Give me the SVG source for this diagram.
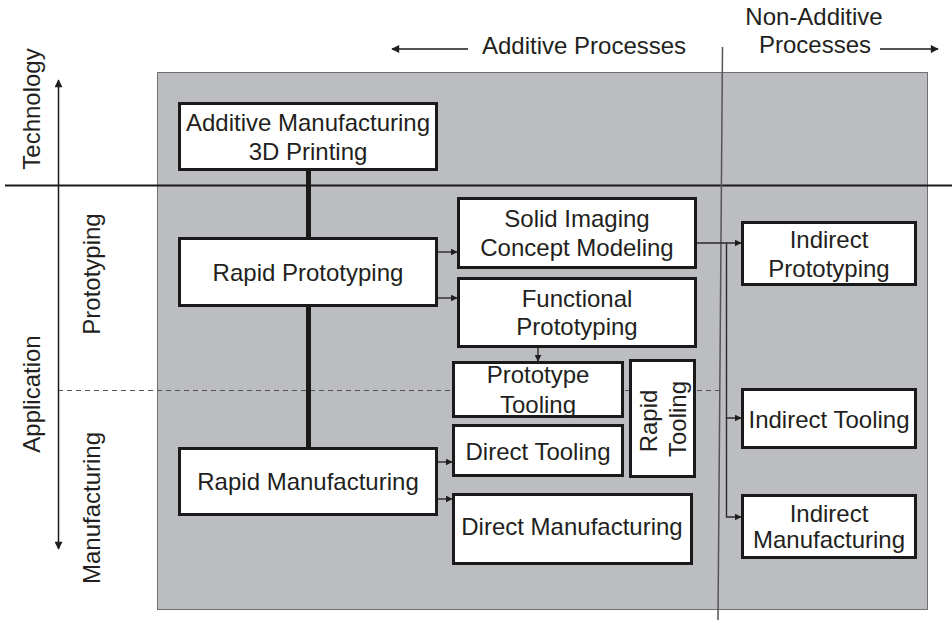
<svg xmlns="http://www.w3.org/2000/svg" width="952" height="627" viewBox="0 0 952 627">
  <defs>
    <marker id="head" viewBox="0 0 10 10" refX="9" refY="5" markerWidth="7" markerHeight="7" markerUnits="userSpaceOnUse" orient="auto">
      <path d="M0,0 L10,5 L0,10 z" fill="#1f1f1f"/>
    </marker>
    <marker id="axisHead" viewBox="0 0 10 10" refX="9" refY="5" markerWidth="9" markerHeight="8" markerUnits="userSpaceOnUse" orient="auto-start-reverse">
      <path d="M0,0 L10,5 L0,10 z" fill="#1f1f1f"/>
    </marker>
  </defs>
  <style>
    text { font-family: "Liberation Sans", Arial, Helvetica, sans-serif; font-size: 24px; fill: #231f20; }
    .c { text-anchor: middle; }
    .box { fill: #ffffff; stroke: #1a1a1a; stroke-width: 3; }
    .link { fill: none; stroke: #2a2a2a; stroke-width: 1.4; marker-end: url(#head); }
    .trunk { fill: none; stroke: #1a1a1a; stroke-width: 5; }
  </style>

  <rect width="952" height="627" fill="#ffffff"/>

  <!-- shaded process field -->
  <rect x="157.5" y="72.5" width="770" height="537" fill="#bcbdc0" stroke="#707070" stroke-width="1"/>

  <!-- frame lines -->
  <g id="frame">
    <line x1="5" y1="185.5" x2="952" y2="185.5" stroke="#1a1a1a" stroke-width="2"/>
    <line x1="58" y1="390.5" x2="720" y2="390.5" stroke="#555555" stroke-width="1.2" stroke-dasharray="5 4"/>
    <line x1="722.5" y1="47" x2="718" y2="620" stroke="#555555" stroke-width="1.5"/>
    <line x1="58.5" y1="80" x2="58.5" y2="549" stroke="#1a1a1a" stroke-width="1.5" marker-start="url(#axisHead)" marker-end="url(#axisHead)"/>
    <line x1="468" y1="49" x2="392" y2="49" stroke="#1a1a1a" stroke-width="1.5" marker-end="url(#axisHead)"/>
    <line x1="880" y1="49" x2="938" y2="49" stroke="#1a1a1a" stroke-width="1.5" marker-end="url(#axisHead)"/>
  </g>

  <!-- axis and column labels -->
  <g id="labels">
    <text x="482" y="54">Additive Processes</text>
    <text class="c" x="814" y="25">Non-Additive</text>
    <text class="c" x="815" y="53">Processes</text>
    <text class="c" transform="translate(40,109) rotate(-90)">Technology</text>
    <text class="c" transform="translate(40,394) rotate(-90)">Application</text>
    <text class="c" transform="translate(100,274) rotate(-90)">Prototyping</text>
    <text class="c" transform="translate(100,508) rotate(-90)">Manufacturing</text>
  </g>

  <!-- connectors -->
  <g id="connectors">
    <line class="trunk" x1="308.5" y1="171" x2="308.5" y2="447"/>
    <line class="link" x1="438" y1="252" x2="457" y2="252"/>
    <line class="link" x1="438" y1="298" x2="457" y2="298"/>
    <line class="link" x1="538" y1="348" x2="538" y2="361"/>
    <line class="link" x1="438" y1="462" x2="452" y2="462"/>
    <line class="link" x1="438" y1="499" x2="452" y2="499"/>
    <line class="link" x1="697" y1="243" x2="741" y2="243"/>
    <polyline class="link" points="726.5,243 726.5,418 741,418"/>
    <polyline class="link" points="726.5,418 726.5,517 741,517"/>
  </g>

  <g id="additive-manufacturing">
    <rect class="box" x="179.5" y="103.5" width="257" height="66"/>
    <text class="c" x="308" y="131">Additive Manufacturing</text>
    <text class="c" x="308" y="160">3D Printing</text>
  </g>
  <g id="rapid-prototyping">
    <rect class="box" x="179.5" y="238.5" width="257" height="67"/>
    <text class="c" x="308" y="281">Rapid Prototyping</text>
  </g>
  <g id="rapid-manufacturing">
    <rect class="box" x="179.5" y="448.5" width="257" height="66"/>
    <text class="c" x="308" y="490">Rapid Manufacturing</text>
  </g>
  <g id="solid-imaging">
    <rect class="box" x="458.5" y="198.5" width="237" height="69"/>
    <text class="c" x="577" y="227">Solid Imaging</text>
    <text class="c" x="577" y="256">Concept Modeling</text>
  </g>
  <g id="functional-prototyping">
    <rect class="box" x="458.5" y="278.5" width="237" height="68"/>
    <text class="c" x="577" y="307">Functional</text>
    <text class="c" x="577" y="335">Prototyping</text>
  </g>
  <g id="prototype-tooling">
    <rect class="box" x="453.5" y="362.5" width="169" height="54"/>
    <text class="c" x="538" y="383">Prototype</text>
    <text class="c" x="538" y="413">Tooling</text>
  </g>
  <g id="rapid-tooling">
    <rect class="box" x="630.5" y="360.5" width="64" height="116"/>
    <text class="c" transform="translate(657,421) rotate(-90)">Rapid</text>
    <text class="c" transform="translate(686,419) rotate(-90)">Tooling</text>
  </g>
  <g id="direct-tooling">
    <rect class="box" x="453.5" y="425.5" width="169" height="50"/>
    <text class="c" x="538" y="460">Direct Tooling</text>
  </g>
  <g id="direct-manufacturing">
    <rect class="box" x="453.5" y="494.5" width="238" height="69"/>
    <text class="c" x="572" y="535">Direct Manufacturing</text>
  </g>
  <g id="indirect-prototyping">
    <rect class="box" x="742.5" y="222.5" width="173" height="62"/>
    <text class="c" x="829" y="248">Indirect</text>
    <text class="c" x="829" y="277">Prototyping</text>
  </g>
  <g id="indirect-tooling">
    <rect class="box" x="742.5" y="389.5" width="173" height="58"/>
    <text class="c" x="829" y="428">Indirect Tooling</text>
  </g>
  <g id="indirect-manufacturing">
    <rect class="box" x="742.5" y="495.5" width="173" height="62"/>
    <text class="c" x="829" y="522">Indirect</text>
    <text class="c" x="829" y="548">Manufacturing</text>
  </g>
</svg>
